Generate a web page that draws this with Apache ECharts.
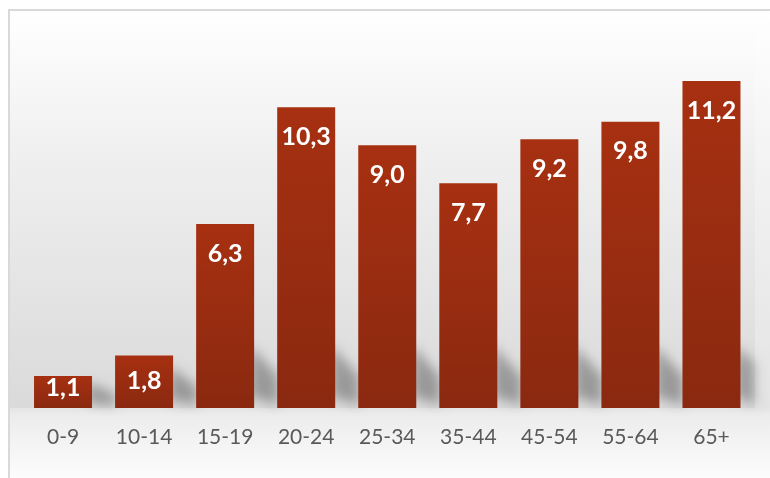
<!DOCTYPE html>
<html>
<head>
<meta charset="utf-8">
<script src="https://cdn.jsdelivr.net/npm/echarts@6/dist/echarts.min.js"></script>
<style>
  html, body { margin: 0; padding: 0; background: #ffffff; }
  #chart { width: 770px; height: 478px; }
</style>
</head>
<body>
<div id="chart"></div>
<script>
const categories = ['0-9', '10-14', '15-19', '20-24', '25-34', '35-44', '45-54', '55-64', '65+'];
const values = [1.1, 1.8, 6.3, 10.3, 9.0, 7.7, 9.2, 9.8, 11.2];

const chart = echarts.init(document.getElementById('chart'));

const fmt = v => v.toFixed(1).replace('.', ',');

function labelDistance(v) {
  if (v < 1.5) return 0;
  if (v < 2.5) return 13;
  return 17;
}

const barData = values.map(v => ({ value: v, label: { distance: labelDistance(v) } }));

const OFF = 3000;

const option = {
  animation: false,
  backgroundColor: '#ffffff',
  graphic: [
    {
      type: 'rect', z: -10, silent: true,
      shape: { x: 9, y: 10, width: 800, height: 398 },
      style: {
        fill: new echarts.graphic.LinearGradient(0, 0, 0, 1, [
          { offset: 0, color: '#ffffff' },
          { offset: 0.4, color: '#eeeeee' },
          { offset: 1, color: '#dadada' }
        ])
      }
    },
    {
      type: 'rect', z: -9, silent: true,
      shape: { x: 755, y: 10, width: 60, height: 398 },
      style: { fill: 'rgba(255,255,255,0.25)' }
    },
    {
      type: 'rect', z: -10, silent: true,
      shape: { x: 9, y: 408, width: 800, height: 80 },
      style: {
        fill: new echarts.graphic.LinearGradient(0, 0, 0, 1, [
          { offset: 0, color: '#e4e4e4' },
          { offset: 0.08, color: '#ececec' },
          { offset: 1, color: '#ffffff' }
        ])
      }
    },
    {
      type: 'rect', z: 50, silent: true,
      shape: { x: 9, y: 10, width: 800, height: 500 },
      style: { fill: 'none', stroke: '#d9d9d9', lineWidth: 2 }
    }
  ],
  grid: { left: 22.5, right: 18, top: 57.6, bottom: 70 },
  xAxis: {
    type: 'category',
    data: categories,
    axisLine: { show: false },
    axisTick: { show: false },
    axisLabel: { color: '#595959', fontFamily: 'Lato', fontSize: 21, margin: 19 }
  },
  yAxis: {
    type: 'value', min: 0, max: 12, show: false,
    splitLine: { show: false }
  },
  series: [
    {
      type: 'custom',
      z: 1,
      silent: true,
      clip: false,
      data: values.map((v, i) => [i, v]),
      renderItem: function (params, api) {
        const base = api.coord([api.value(0), 0]);
        const top = api.coord([api.value(0), api.value(1)]);
        const bw = api.size([1, 0])[0] * 0.716;
        const xr = base[0] + bw / 2;
        const y0 = base[1];
        const h = Math.min(y0 - top[1], 78);
        const xmax = params.coordSys.x + params.coordSys.width + 2;
        const xe = Math.min(xr + 24, xmax);
        const f = (xe - xr) / 24;
        return {
          type: 'polygon',
          shape: {
            points: [
              [xr - 4, y0 - h * 0.8 - OFF],
              [xe, y0 - h * (0.8 - 0.4 * f) - OFF],
              [xe, y0 - 3 - OFF],
              [xr - 4, y0 - h * 0.15 - OFF]
            ]
          },
          style: {
            fill: '#000',
            shadowBlur: 12,
            shadowOffsetY: OFF,
            shadowColor: 'rgba(0,0,0,0.3)'
          }
        };
      }
    },
    {
      type: 'bar',
      z: 2,
      data: barData,
      barWidth: 58,
      itemStyle: {
        color: new echarts.graphic.LinearGradient(0, 0, 0, 1, [
          { offset: 0, color: '#a73011' },
          { offset: 1, color: '#8a2910' }
        ])
      },
      label: {
        show: true,
        position: 'insideTop',
        color: '#ffffff',
        fontFamily: 'Lato',
        fontWeight: 'bold',
        fontSize: 25,
        formatter: p => fmt(p.value)
      }
    }
  ]
};

chart.setOption(option);
</script>
</body>
</html>
